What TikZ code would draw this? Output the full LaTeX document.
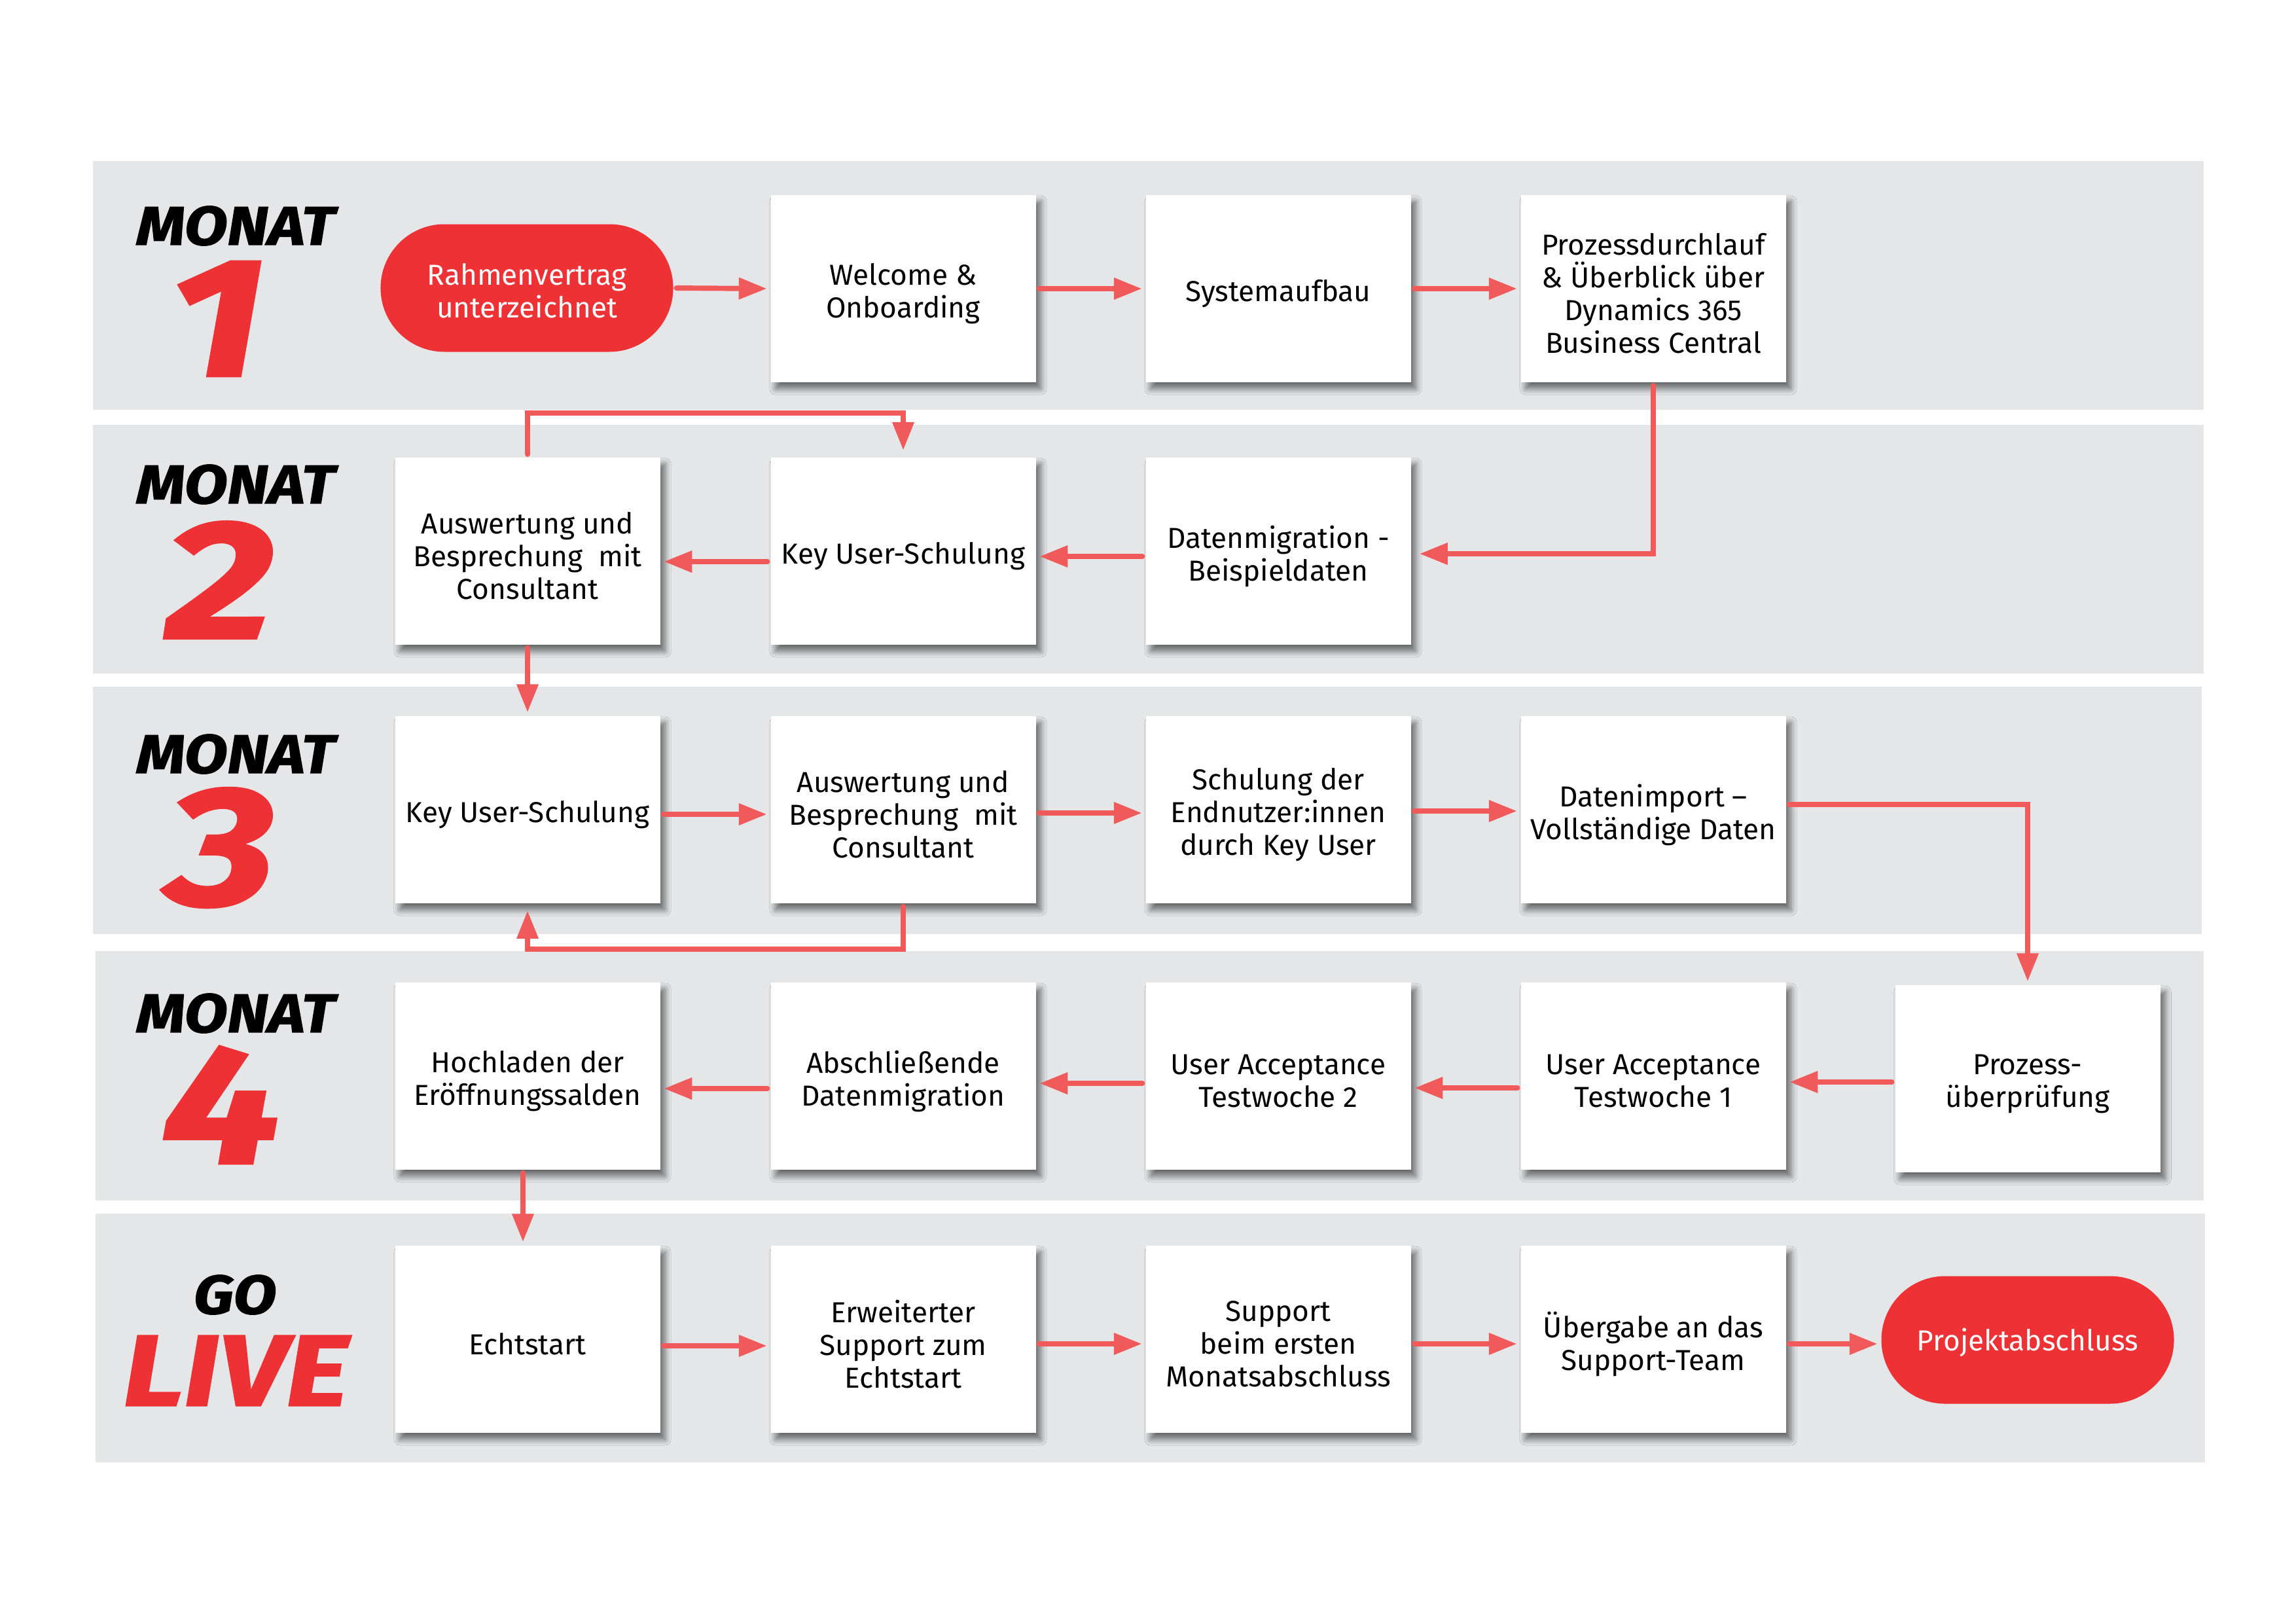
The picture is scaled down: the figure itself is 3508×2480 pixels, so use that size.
\documentclass[tikz,border=0pt]{standalone}
\usepackage{fontspec}
\setmainfont{Fira Sans}
\newfontfamily\heavyfamily{Fira Sans}[BoldItalicFeatures={FakeBold=1.5}]
\newcommand\heavyfont{\heavyfamily\bfseries\itshape}
\usetikzlibrary{arrows.meta,shadows.blur,calc}
\definecolor{bandgray}{HTML}{E5E6E8}
\definecolor{brandred}{HTML}{EE3134}
\definecolor{arrowred}{HTML}{F05A5A}
\tikzset{
  stepbox/.style={rectangle, fill=white, minimum width=97.2pt, minimum height=68.6pt,
    inner sep=1pt,
    blur shadow={shadow xshift=1.8pt, shadow yshift=-2.4pt, shadow blur radius=2.2pt, shadow blur steps=8, shadow opacity=55}},
  steptext/.style={align=center, inner sep=0pt, font=\fontsize{10.6}{12}\selectfont},
  pill/.style={rectangle, rounded corners=23.4pt, fill=brandred,
    minimum width=107.3pt, minimum height=46.8pt, inner sep=1pt},
  pilltext/.style={steptext, text=white},
  monat/.style={font=\heavyfont\fontsize{20}{20}\selectfont, text=black, inner sep=0pt},
  digit/.style={font=\heavyfont\fontsize{62}{62}\selectfont, text=brandred, inner sep=0pt},
  arr/.style={draw=arrowred, line width=1.9pt, line cap=round,
    -{Triangle[length=10.3pt,width=7.6pt]}, shorten >=1.2pt, shorten <=1pt},
}
% box node plus its text, text set slightly below the box centre
\newcommand\stepnode[3]{%
  \node[stepbox] (#1) at (#2) {};
  \node[steptext] (#1t) at ([yshift=-1.8pt]#1.center) {#3};}
\newcommand\pillnode[3]{%
  \node[pill] (#1) at (#2) {};
  \node[pilltext] (#1t) at ([yshift=-1pt]#1.center) {#3};}
% horizontal arrows, lowered by #3 reference pixels
\newcommand\rarr[3]{\draw[arr] ([yshift=-#3*0.24pt]#1.east) -- ([yshift=-#3*0.24pt]#2.west);}
\newcommand\larr[3]{\draw[arr] ([yshift=-#3*0.24pt]#1.west) -- ([yshift=-#3*0.24pt]#2.east);}
\begin{document}
\begin{tikzpicture}[x=0.24pt,y=-0.24pt]
\useasboundingbox (0,0) rectangle (3508,2480);
% bands
\fill[bandgray] (142,246) rectangle (3367,626);
\fill[bandgray] (142,649) rectangle (3367,1029);
\fill[bandgray] (142,1049) rectangle (3364,1427);
\fill[bandgray] (146,1453) rectangle (3367,1834);
\fill[bandgray] (146,1854) rectangle (3369,2234);
% month labels
\node[monat] (m1) at (360,345) {\scalebox{1.15}[1]{MONAT}};
\node[digit] (n1) at (331,487) {\scalebox{1.25}[1]{1}};
\node[monat] (m2) at (360,740) {\scalebox{1.15}[1]{MONAT}};
\node[digit] (n2) at (336,886) {\scalebox{1.25}[1]{2}};
\node[monat] (m3) at (360,1152) {\scalebox{1.15}[1]{MONAT}};
\node[digit] (n3) at (338,1295) {\scalebox{1.25}[1]{3}};
\node[monat] (m4) at (360,1548) {\scalebox{1.15}[1]{MONAT}};
\node[digit] (n4) at (338,1688) {\scalebox{1.25}[1]{4}};
\node[monat] (go) at (359,1978) {\scalebox{1.15}[1]{GO}};
\node[font=\heavyfont\fontsize{37}{37}\selectfont, text=brandred, inner sep=0pt] (live) at (360,2094) {\scalebox{1.19}[1]{LIVE}};
% row 1
\pillnode{a1}{805,440}{Rahmenvertrag\\unterzeichnet}
\stepnode{a2}{1380,441}{Welcome \&\\Onboarding}
\stepnode{a3}{1953,441}{Systemaufbau}
\stepnode{a4}{2526,441}{Prozessdurchlauf\\\& Überblick über\\Dynamics 365\\Business Central}
% row 2
\stepnode{b1}{806,842}{Auswertung und\\Besprechung\ \ mit\\Consultant}
\stepnode{b2}{1380,842}{Key User-Schulung}
\stepnode{b3}{1953,842}{Datenmigration -\\Beispieldaten}
% row 3
\stepnode{c1}{806,1237}{Key User-Schulung}
\stepnode{c2}{1380,1237}{Auswertung und\\Besprechung\ \ mit\\Consultant}
\stepnode{c3}{1953,1237}{Schulung der\\Endnutzer:innen\\durch Key User}
\stepnode{c4}{2526,1237}{Datenimport –\\Vollständige Daten}
% row 4
\stepnode{d1}{806,1644}{Hochladen der\\Eröffnungssalden}
\stepnode{d2}{1380,1644}{Abschließende\\Datenmigration}
\stepnode{d3}{1953,1644}{User Acceptance\\Testwoche 2}
\stepnode{d4}{2526,1644}{User Acceptance\\Testwoche 1}
\stepnode{d5}{3098,1648}{Prozess-\\überprüfung}
% row 5
\stepnode{e1}{806,2046}{Echtstart}
\stepnode{e2}{1380,2046}{Erweiterter\\Support zum\\Echtstart}
\stepnode{e3}{1953,2046}{Support\\beim ersten\\Monatsabschluss}
\stepnode{e4}{2526,2046}{Übergabe an das\\Support-Team}
\pillnode{e5}{3098,2047}{Projektabschluss}
% helper coordinates for gaps
\coordinate (g12) at (0,631);
\coordinate (g34) at (0,1450);
% connectors row 1
\rarr{a1}{a2}{0}
\rarr{a2}{a3}{0}
\rarr{a3}{a4}{0}
\draw[arr, shorten >=3pt] (a4.south) |- ([yshift=-4*0.24pt]b3.east);
% row 2
\larr{b3}{b2}{8}
\larr{b2}{b1}{16}
\draw[arr, shorten >=2.5pt] (b1.north) -- (b1.north |- g12) -| (b2.north);
\draw[arr] (b1) -- (c1);
% row 3
\rarr{c1}{c2}{7}
\rarr{c2}{c3}{5}
\rarr{c3}{c4}{2}
\draw[arr, shorten >=2.5pt] (c2.south) -- (c2.south |- g34) -| (c1.south);
\draw[arr] ([yshift=2pt]c4.east) -| (d5.north);
% row 4
\draw[arr] ([yshift=-5*0.24pt]d5.west) -- ([yshift=-5*0.24pt]d5.west -| d4.east);
\larr{d4}{d3}{18}
\larr{d3}{d2}{11}
\larr{d2}{d1}{19}
\draw[arr] ([xshift=-7*0.24pt]d1.south) -- ([xshift=-7*0.24pt]e1.north);
% row 5
\rarr{e1}{e2}{10}
\rarr{e2}{e3}{7}
\rarr{e3}{e4}{7}
\draw[arr] ([yshift=-7*0.24pt]e4.east) -- ([yshift=-7*0.24pt]e4.east -| e5.west);
\end{tikzpicture}
\end{document}
